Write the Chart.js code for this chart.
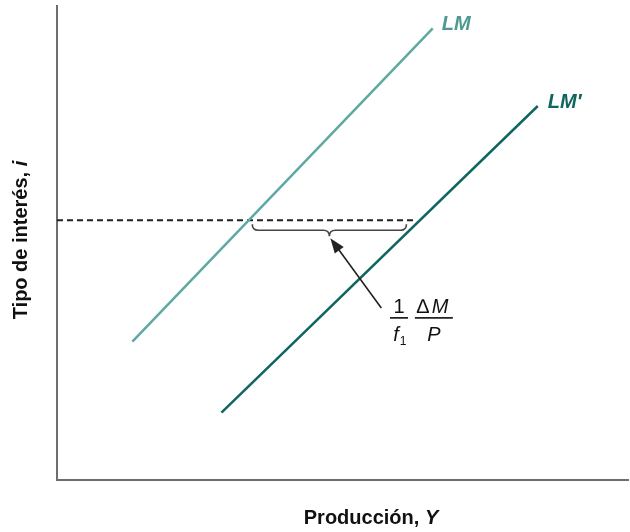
<!DOCTYPE html>
<html>
<head>
<meta charset="utf-8">
<script src="https://cdn.jsdelivr.net/npm/chart.js@4"></script>
<style>
  body { margin: 0; background: #fff; }
  #wrap { width: 630px; height: 532px; }
</style>
</head>
<body>
<div id="wrap"><canvas id="chart"></canvas></div>
<script>
// curve end points (x = production, y = interest rate), arbitrary units 0..100
const lmX = [13.2, 65.8];
const lmY = [29.2, 95.3];
const lmShiftX = [28.8, 84.2];
const lmShiftY = [14.2, 78.9];
// horizontal guide at the initial interest rate
const guideY = 54.8;
const guideX = [0, 62.6];
// brace between the two curves at that rate
const braceX = [34.2, 61.2];

const lmColor = "#5ea9a2";
const lmShiftColor = "#0f6660";
const font = "'Liberation Sans', Arial, sans-serif";

const toPoints = (xs, ys) => xs.map((x, i) => ({ x: x, y: ys[i] }));

// writes "plain" + "italic" centred on cx
function mixedText(ctx, plain, ital, cx, cy, size) {
    ctx.font = "bold " + size + "px " + font;
    const w1 = ctx.measureText(plain).width;
    ctx.font = "italic bold " + size + "px " + font;
    const w2 = ctx.measureText(ital).width;
    const x0 = cx - (w1 + w2) / 2;
    ctx.textAlign = "left";
    ctx.textBaseline = "middle";
    ctx.font = "bold " + size + "px " + font;
    ctx.fillText(plain, x0, cy);
    ctx.font = "italic bold " + size + "px " + font;
    ctx.fillText(ital, x0 + w1, cy);
}

// texts, brace and arrow drawn on top of the lines
const notes = {
    id: "notes",
    afterDatasetsDraw(c) {
        const ctx = c.ctx;
        const sx = c.scales.x, sy = c.scales.y;
        const px = v => sx.getPixelForValue(v);
        const py = v => sy.getPixelForValue(v);
        ctx.save();

        // curve labels
        ctx.font = "italic bold 20px " + font;
        ctx.textBaseline = "middle";
        ctx.textAlign = "left";
        ctx.fillStyle = "#4f9993";
        ctx.fillText("LM", px(lmX[1]) + 9, py(lmY[1]) - 4);
        ctx.fillStyle = lmShiftColor;
        ctx.fillText("LM\u2032", px(lmShiftX[1]) + 10, py(lmShiftY[1]) - 4);

        // brace under the dashed line
        const b0 = px(braceX[0]), b1 = px(braceX[1]);
        const mid = b0 + (b1 - b0) * 0.5;
        const yTop = py(guideY) + 4, yMid = yTop + 6, yTip = yTop + 12;
        ctx.strokeStyle = "#444";
        ctx.lineWidth = 1.6;
        ctx.beginPath();
        ctx.moveTo(b0, yTop);
        ctx.quadraticCurveTo(b0, yMid, b0 + 6, yMid);
        ctx.lineTo(mid - 6, yMid);
        ctx.quadraticCurveTo(mid, yMid, mid, yTip);
        ctx.quadraticCurveTo(mid, yMid, mid + 6, yMid);
        ctx.lineTo(b1 - 6, yMid);
        ctx.quadraticCurveTo(b1, yMid, b1, yTop);
        ctx.stroke();

        // arrow from the label up to the brace
        const tx = mid + 1, ty = yTip + 2;
        const fx = px(56.8), fy = py(36.3);
        const ang = Math.atan2(ty - fy, tx - fx);
        ctx.strokeStyle = "#222";
        ctx.lineWidth = 1.6;
        ctx.beginPath();
        ctx.moveTo(fx, fy);
        ctx.lineTo(tx - 10 * Math.cos(ang), ty - 10 * Math.sin(ang));
        ctx.stroke();
        ctx.fillStyle = "#222";
        ctx.beginPath();
        ctx.moveTo(tx, ty);
        ctx.lineTo(tx - 15 * Math.cos(ang) + 5.5 * Math.sin(ang), ty - 15 * Math.sin(ang) - 5.5 * Math.cos(ang));
        ctx.lineTo(tx - 15 * Math.cos(ang) - 5.5 * Math.sin(ang), ty - 15 * Math.sin(ang) + 5.5 * Math.cos(ang));
        ctx.closePath();
        ctx.fill();

        // (1 / f1) (ΔM / P)
        const fracY = py(34.2);
        ctx.fillStyle = "#111";
        ctx.strokeStyle = "#222";
        ctx.lineWidth = 1.6;
        ctx.textBaseline = "alphabetic";
        const c1 = px(59.9), c2 = px(66.0);
        ctx.beginPath();
        ctx.moveTo(c1 - 9, fracY); ctx.lineTo(c1 + 9, fracY);
        ctx.moveTo(c2 - 19, fracY); ctx.lineTo(c2 + 19, fracY);
        ctx.stroke();
        ctx.textAlign = "center";
        ctx.font = "20px " + font;
        ctx.fillText("1", c1, fracY - 5);
        ctx.textAlign = "left";
        ctx.fillText("\u2206", c2 - 17, fracY - 5);
        ctx.font = "italic 20px " + font;
        ctx.fillText("M", c2 - 2, fracY - 5);
        ctx.textAlign = "center";
        ctx.fillText("P", c2, fracY + 23);
        ctx.fillText("f", c1 - 3, fracY + 23);
        ctx.font = "12px " + font;
        ctx.fillText("1", c1 + 4, fracY + 27);

        // axis titles
        ctx.fillStyle = "#111";
        mixedText(ctx, "Producci\u00f3n, ", "Y", 371, 518, 20);
        ctx.translate(21, 240);
        ctx.rotate(-Math.PI / 2);
        mixedText(ctx, "Tipo de inter\u00e9s, ", "i", 0, 0, 20);

        ctx.restore();
    }
};

const chart = document.querySelector("#chart").getContext("2d");

new Chart(chart, {
    type: "scatter",
    data: {
        datasets: [
            {
                label: "LM",
                data: toPoints(lmX, lmY),
                showLine: true,
                borderColor: lmColor,
                borderWidth: 2.5,
                pointRadius: 0,
            },
            {
                label: "LM'",
                data: toPoints(lmShiftX, lmShiftY),
                showLine: true,
                borderColor: lmShiftColor,
                borderWidth: 2.5,
                pointRadius: 0,
            },
            {
                label: "guide",
                data: toPoints(guideX, [guideY, guideY]),
                showLine: true,
                borderColor: "#222",
                borderWidth: 2.2,
                borderDash: [6, 4],
                pointRadius: 0,
            },
        ]
    },
    options: {
        responsive: true,
        maintainAspectRatio: false,
        animation: false,
        layout: { padding: { left: 57, top: 6, right: 2, bottom: 52 } },
        plugins: { legend: { display: false }, tooltip: { enabled: false } },
        scales: {
            x: {
                type: "linear", min: 0, max: 100,
                ticks: { display: false },
                grid: { display: false, drawTicks: false },
                border: { color: "#6e6e6e", width: 2 },
            },
            y: {
                type: "linear", min: 0, max: 100,
                ticks: { display: false },
                grid: { display: false, drawTicks: false },
                border: { color: "#6e6e6e", width: 2 },
            },
        }
    },
    plugins: [notes]
});
</script>
</body>
</html>
